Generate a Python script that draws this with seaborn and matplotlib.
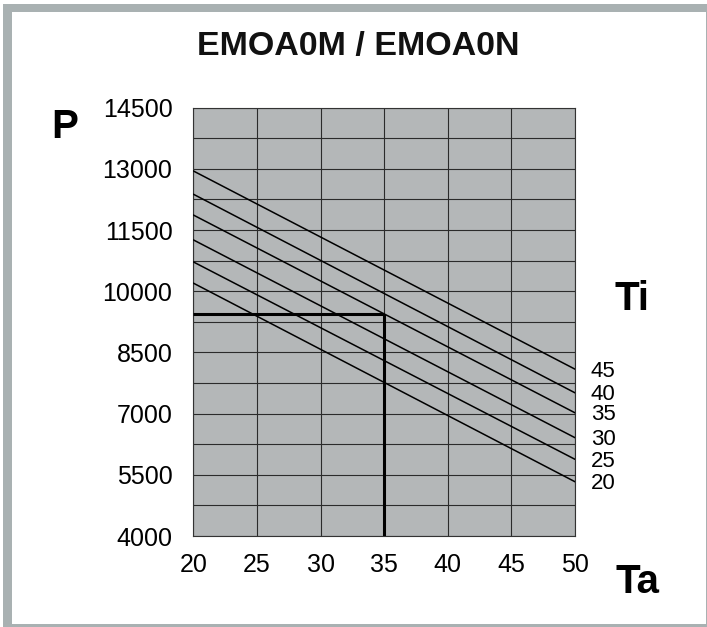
import numpy as np
import pandas as pd
import matplotlib
matplotlib.use("Agg")
import matplotlib.pyplot as plt
import seaborn as sns
from matplotlib.patches import Rectangle

# ---- data ----
ta_points = [20, 50]
ti_levels = [45, 40, 35, 30, 25, 20]
p_at_20 = [12950, 12380, 11870, 11260, 10720, 10200]
p_at_50 = [8090, 7510, 7020, 6410, 5880, 5330]
x_ticks = [20, 25, 30, 35, 40, 45, 50]
y_ticks = [4000, 5500, 7000, 8500, 10000, 11500, 13000, 14500]
op_ta = 35
op_p = 9450
title = "EMOA0M / EMOA0N"

rows = []
for ti, p0, p1 in zip(ti_levels, p_at_20, p_at_50):
    rows.append({"Ta": ta_points[0], "P": p0, "Ti": ti})
    rows.append({"Ta": ta_points[1], "P": p1, "Ti": ti})
df = pd.DataFrame(rows)

sns.set_style("white")
plt.rcParams["font.family"] = ["Liberation Sans", "DejaVu Sans"]

W, H = 707, 627
fig = plt.figure(figsize=(W / 100, H / 100), dpi=100)
fig.patch.set_facecolor("white")

def px_rect(x0, y0, x1, y1, color):
    fig.patches.append(Rectangle((x0 / W, 1 - y1 / H), (x1 - x0) / W, (y1 - y0) / H,
                                 transform=fig.transFigure, facecolor=color,
                                 edgecolor="none", zorder=-10))

px_rect(3, 4, 707, 627, "#a9b1b2")
px_rect(12, 12, 705.5, 624, "white")

ax = fig.add_axes([193.3 / W, 1 - 536 / H, (575 - 193.3) / W, (536 - 107.7) / H])
ax.set_facecolor("#b4b7b8")

sns.lineplot(data=df, x="Ta", y="P", hue="Ti", palette=["black"] * len(ti_levels),
             legend=False, linewidth=1.1, ax=ax, zorder=3)

ax.plot([ta_points[0], op_ta], [op_p, op_p], color="black", lw=2.2, zorder=4,
        solid_capstyle="butt")
ax.plot([op_ta, op_ta], [y_ticks[0], op_p], color="black", lw=2.2, zorder=4,
        solid_capstyle="butt")

ax.set_xlim(x_ticks[0], x_ticks[-1])
ax.set_ylim(y_ticks[0], y_ticks[-1])
ax.set_xticks(x_ticks)
ax.set_yticks(y_ticks)
ax.set_yticks(np.arange(y_ticks[0], y_ticks[-1] + 1, 750), minor=True)
ax.set_xticklabels([str(v) for v in x_ticks])
ax.set_yticklabels([str(v) for v in y_ticks])
ax.grid(which="both", color="#2b2b2b", lw=0.8, zorder=1)
ax.set_axisbelow(True)
ax.tick_params(which="both", length=0)
ax.tick_params(axis="x", pad=12, labelsize=18, colors="black")
ax.tick_params(axis="y", pad=15, labelsize=18, colors="black")
ax.set_xlabel("")
ax.set_ylabel("")
for s in ax.spines.values():
    s.set_visible(True)
    s.set_color("#333333")
    s.set_linewidth(0.8)

for ti, p1 in zip(ti_levels, p_at_50):
    ax.annotate(str(ti), xy=(ta_points[1], p1), xytext=(11.5, -5.4),
                textcoords="offset points", ha="left", va="baseline",
                fontsize=16, color="black", annotation_clip=False)

fig.text(358.5 / W, 1 - 55 / H, title, ha="center", va="baseline",
         fontsize=24.5, fontweight="bold", color="#111111")
fig.text(64.2 / W, 1 - 138.3 / H, "P", ha="center", va="baseline",
         fontsize=29, fontweight="bold", color="black")
fig.text(631.7 / W, 1 - 310 / H, "Ti", ha="center", va="baseline",
         fontsize=29, fontweight="bold", color="black")
fig.text(637.8 / W, 1 - 593.3 / H, "Ta", ha="center", va="baseline",
         fontsize=29, fontweight="bold", color="black")

fig.savefig("out.png", dpi=100)
